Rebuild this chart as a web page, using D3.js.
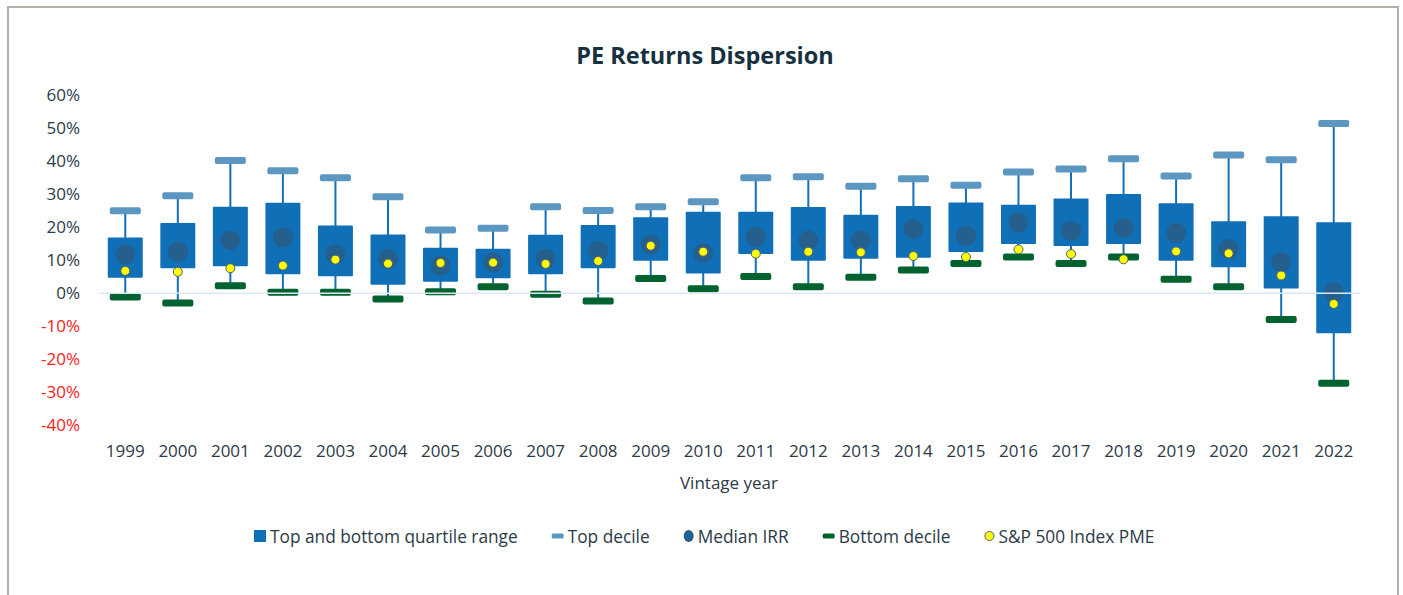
<!DOCTYPE html>
<html>
<head>
<meta charset="utf-8">
<script src="https://cdn.jsdelivr.net/npm/d3@7"></script>
<style>
  html, body { margin: 0; padding: 0; background: #ffffff; }
  svg { display: block; }
  text { font-family: "Open Sans", "Noto Sans", sans-serif; }
</style>
</head>
<body>
<svg id="chart" width="1403" height="595"></svg>
<script>
// ---- data (percent) ----
const years = ["1999","2000","2001","2002","2003","2004","2005","2006","2007","2008","2009","2010","2011","2012","2013","2014","2015","2016","2017","2018","2019","2020","2021","2022"];
const topDecile    = [25.0, 29.5, 40.2, 37.1, 35.0, 29.2, 19.2, 19.7, 26.2, 25.1, 26.2, 27.7, 35.0, 35.3, 32.4, 34.7, 32.7, 36.7, 37.6, 40.7, 35.5, 41.9, 40.4, 51.4];
const topQuartile  = [16.9, 21.3, 26.2, 27.4, 20.5, 17.8, 13.8, 13.5, 17.7, 20.7, 23.0, 24.7, 24.7, 26.1, 23.8, 26.4, 27.5, 26.8, 28.7, 30.1, 27.3, 21.8, 23.3, 21.5];
const bottomQuartile = [4.7, 7.6, 8.2, 5.8, 5.2, 2.6, 3.5, 4.6, 5.8, 7.6, 9.9, 6.0, 11.9, 9.9, 10.5, 10.8, 12.5, 14.9, 14.3, 14.9, 9.9, 7.9, 1.5, -12.1];
const medianIRR    = [11.8, 12.6, 16.1, 16.9, 11.8, 10.4, 8.4, 9.3, 10.5, 12.9, 14.8, 12.2, 17.1, 16.0, 16.1, 19.5, 17.4, 21.5, 18.9, 19.8, 18.3, 13.4, 9.5, 0.4];
const bottomDecile = [-1.1, -2.9, 2.3, 0.3, 0.3, -1.7, 0.5, 2.0, -0.3, -2.3, 4.5, 1.4, 5.1, 2.0, 4.9, 7.1, 9.0, 11.0, 9.0, 11.0, 4.3, 2.0, -7.9, -27.2];
const spPME        = [6.8, 6.5, 7.6, 8.4, 10.2, 9.0, 9.2, 9.3, 8.9, 9.8, 14.4, 12.6, 12.0, 12.6, 12.4, 11.3, 11.0, 13.3, 11.9, 10.3, 12.7, 12.1, 5.4, -3.2];
const yTicks = [-40, -30, -20, -10, 0, 10, 20, 30, 40, 50, 60];
const legendLabels = ["Top and bottom quartile range", "Top decile", "Median IRR", "Bottom decile", "S&P 500 Index PME"];
const chartTitle = "PE Returns Dispersion";
const xTitle = "Vintage year";

// ---- styles ----
const C = {
  box: "#0f70b8", whisker: "#1170b9", top: "#5c97c1", median: "#245f8d",
  bottom: "#00622f", pme: "#ffff00", pmeStroke: "#4f6070",
  text: "#2b3a46", title: "#17303f", neg: "#ff2020", zero: "#dde8f6", border: "#b4afa9"
};

const svg = d3.select("#chart");
const rows = years.map((y, i) => ({
  year: y, top: topDecile[i], q3: topQuartile[i], q1: bottomQuartile[i],
  med: medianIRR[i], bot: bottomDecile[i], pme: spPME[i]
}));

const x = d3.scaleBand().domain(years).range([99, 1360]).padding(0);
const y = d3.scaleLinear().domain([-40, 60]).range([425.5, 95.1]);
const bw = x.bandwidth();
const boxW = bw * 0.666;
const capW = bw * 0.59;
const capH = 7;

// border
svg.append("rect").attr("x", 8).attr("y", 7).attr("width", 1390).attr("height", 600)
  .attr("fill", "none").attr("stroke", C.border).attr("stroke-width", 2);

// title
svg.append("text").attr("x", 705).attr("y", 55).attr("text-anchor", "middle")
  .attr("dominant-baseline", "central").attr("font-size", 23.5).attr("font-weight", 700)
  .attr("fill", C.title).text(chartTitle);

// y axis
const yAxis = d3.axisLeft(y).tickValues(yTicks).tickSize(0).tickPadding(0)
  .tickFormat(d => d + "%");
const gy = svg.append("g").attr("transform", "translate(80,0)").call(yAxis);
gy.select(".domain").remove();
gy.selectAll("text").attr("font-size", 17).attr("font-family", "Open Sans")
  .attr("fill", d => d < 0 ? C.neg : C.text);

// x axis
const xAxis = d3.axisBottom(x).tickSize(0).tickPadding(0);
const gx = svg.append("g").attr("transform", "translate(0,445)").call(xAxis);
gx.select(".domain").remove();
gx.selectAll("text").attr("font-size", 17).attr("font-family", "Open Sans")
  .attr("fill", C.text);

svg.append("text").attr("x", 729).attr("y", 482).attr("text-anchor", "middle")
  .attr("dominant-baseline", "central").attr("font-size", 17).attr("fill", C.text).text(xTitle);

const g = svg.append("g");
const cx = d => x(d.year) + bw / 2;

// whiskers
g.selectAll(".wh").data(rows).join("line").attr("class", "wh")
  .attr("x1", cx).attr("x2", cx).attr("y1", d => y(d.top)).attr("y2", d => y(d.bot))
  .attr("stroke", C.whisker).attr("stroke-width", 2);

// boxes
g.selectAll(".box").data(rows).join("rect").attr("class", "box")
  .attr("x", d => cx(d) - boxW / 2).attr("width", boxW)
  .attr("y", d => y(d.q3)).attr("height", d => y(d.q1) - y(d.q3))
  .attr("fill", C.box).attr("rx", 1);

// zero line
svg.append("line").attr("x1", 99).attr("x2", 1360).attr("y1", y(0)).attr("y2", y(0))
  .attr("stroke", C.zero).attr("stroke-width", 1.5);

// top decile caps
g.selectAll(".topc").data(rows).join("rect").attr("class", "topc")
  .attr("x", d => cx(d) - capW / 2).attr("width", capW)
  .attr("y", d => y(d.top) - capH / 2).attr("height", capH)
  .attr("rx", 2).attr("fill", C.top);

// bottom decile caps
g.selectAll(".botc").data(rows).join("rect").attr("class", "botc")
  .attr("x", d => cx(d) - capW / 2).attr("width", capW)
  .attr("y", d => y(d.bot) - capH / 2).attr("height", capH)
  .attr("rx", 2).attr("fill", C.bottom);

// median
g.selectAll(".med").data(rows).join("circle").attr("class", "med")
  .attr("cx", cx).attr("cy", d => y(d.med)).attr("r", 10).attr("fill", C.median);

// PME
g.selectAll(".pme").data(rows).join("circle").attr("class", "pme")
  .attr("cx", cx).attr("cy", d => y(d.pme)).attr("r", 4.5)
  .attr("fill", C.pme).attr("stroke", C.pmeStroke).attr("stroke-width", 1);

// legend
const lg = svg.append("g").attr("transform", "translate(0,536)");
const markers = [
  s => s.append("rect").attr("x", 0).attr("y", -6).attr("width", 12).attr("height", 12).attr("fill", C.box),
  s => s.append("rect").attr("x", 0).attr("y", -2.5).attr("width", 12).attr("height", 5).attr("rx", 1.5).attr("fill", C.top),
  s => s.append("ellipse").attr("cx", 5).attr("cy", 0).attr("rx", 5).attr("ry", 6).attr("fill", C.median),
  s => s.append("rect").attr("x", 0).attr("y", -2.5).attr("width", 12).attr("height", 5).attr("rx", 1.5).attr("fill", C.bottom),
  s => s.append("circle").attr("cx", 5).attr("cy", 0).attr("r", 4.5).attr("fill", C.pme).attr("stroke", C.pmeStroke).attr("stroke-width", 1)
];
const mW = [12, 12, 10, 12, 10];
let cur = 254;
legendLabels.forEach((lab, i) => {
  const item = lg.append("g").attr("transform", `translate(${cur},0)`);
  markers[i](item);
  const t = item.append("text").attr("x", mW[i] + 4).attr("y", 0).attr("dominant-baseline", "central")
    .attr("font-size", 17.3).attr("fill", C.text).text(lab);
  cur += mW[i] + 4 + t.node().getComputedTextLength() + 34;
});
</script>
</body>
</html>
